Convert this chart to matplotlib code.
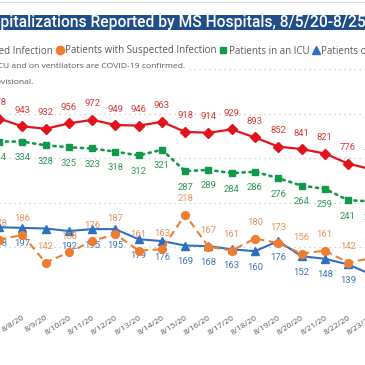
import matplotlib
matplotlib.use('Agg')
import matplotlib.pyplot as plt
from matplotlib.lines import Line2D
from matplotlib.patches import Rectangle

# ---------------- data ----------------
dates = ['8/7/20', '8/8/20', '8/9/20', '8/10/20', '8/11/20', '8/12/20', '8/13/20',
         '8/14/20', '8/15/20', '8/16/20', '8/17/20', '8/18/20', '8/19/20', '8/20/20',
         '8/21/20', '8/22/20', '8/23/20']
confirmed = [978, 943, 932, 956, 972, 949, 946, 963, 918, 914, 929, 893, 852, 841, 821, 776, 750]
suspected = [178, 186, 142, 158, 176, 187, 161, 163, 218, 167, 161, 180, 173, 156, 161, 142, 149]
icu = [334, 334, 328, 325, 323, 318, 312, 321, 287, 289, 284, 286, 276, 264, 259, 241, 239]
vent = [198, 197, 196, 192, 195, 195, 179, 176, 169, 168, 163, 160, 176, 152, 148, 139, 123]
vent_hidden_labels = [2]   # label covered in the original

series_names = ['Patients with Confirmed Infection', 'Patients with Suspected Infection',
                'Patients in an ICU', 'Patients on Ventilators']
title_full = 'COVID-19 Hospitalizations Reported by MS Hospitals, 8/5/20-8/25/20'
title_hidden_prefix = 'COVID-19 Hos'
title_visible = 'pitalizations Reported by MS Hospitals, 8/5/20-8/25'
note1 = '*All patients in an ICU and on ventilators are COVID-19 confirmed.'
note2 = '*Data is provisional.'

# ---------------- style ----------------
RED = '#e3131b'
RED_T = '#d8393d'
ORANGE = '#ed7d31'
ORANGE_T = '#e8915a'
GREEN = '#11994a'
GREEN_T = '#2f9a5c'
BLUE = '#2f6fbf'
BLUE_T = '#3f78b8'
GRAY = '#595959'

W = 365.0
def fx(px):
    return px / W
def fy(py):
    return 1 - py / W

fig = plt.figure(figsize=(3.65, 3.65), dpi=100)
fig.patch.set_facecolor('white')

step = 23.27          # px per day
first_px = -1.0       # px position of first date
y_top, y_bot = 69.0, 292.0
L_px, R_px = -40.0, 405.0   # axes extends past the visible crop
ax = fig.add_axes([fx(L_px), fy(y_bot), (R_px - L_px) / W, (y_bot - y_top) / W])
ax2 = ax.twinx()

for a in (ax, ax2):
    for s in a.spines.values():
        s.set_visible(False)
    a.patch.set_visible(False)

xs = list(range(len(dates)))
ax.set_xticks(xs)
ax.set_xticklabels(dates, rotation=33, ha='right', rotation_mode='anchor',
                   fontsize=6, color=GRAY, family='Open Sans')
ax.tick_params(axis='x', length=0, pad=16)

ax.set_yticks(range(200, 1201, 200))
ax.yaxis.grid(True, linestyle=(0, (1, 3)), color='#c8c8c8', linewidth=0.9)
ax.tick_params(axis='y', length=0, labelleft=False)
ax2.set_yticks([])
ax.set_axisbelow(True)

lab_font = dict(family=['Liberation Sans Narrow', 'Roboto'], fontsize=6.8)

ax.plot(xs, confirmed, color=RED, lw=1.6, marker='D', markersize=5.5, zorder=3)
ax2.plot(xs, icu, color=GREEN, lw=1.9, linestyle=(0, (0.8, 1.8)),
         dash_capstyle='round', marker='s', markersize=4.6, zorder=3)
ax2.plot(xs, vent, color=BLUE, lw=1.5, marker='^', markersize=5.3, zorder=3)
ax2.plot(xs, suspected, color=ORANGE, lw=1.5, linestyle=(0, (3.5, 2.2)),
         marker='o', markersize=5.6, zorder=4)

off = 11.5
for i, v in enumerate(confirmed):
    ax.annotate(str(v), (i, v), xytext=(0, off), textcoords='offset points',
                ha='center', va='center', color=RED_T, annotation_clip=False, **lab_font)
for i, v in enumerate(icu):
    ax2.annotate(str(v), (i, v), xytext=(0, -off), textcoords='offset points',
                 ha='center', va='center', color=GREEN_T, annotation_clip=False, **lab_font)
for i, v in enumerate(vent):
    if i in vent_hidden_labels:
        continue
    ax2.annotate(str(v), (i, v), xytext=(0, -off), textcoords='offset points',
                 ha='center', va='center', color=BLUE_T, annotation_clip=False, **lab_font)
for i, v in enumerate(suspected):
    ax2.annotate(str(v), (i, v), xytext=(0, off), textcoords='offset points',
                 ha='center', va='center', color=ORANGE_T, annotation_clip=False, **lab_font)

# limits last (set_xticks may widen them)
ax.set_xlim((L_px - first_px) / step, (R_px - first_px) / step)
ax.set_ylim(200, 1200)
ax2.set_ylim(95.2, 449.2)

# ---------------- title band ----------------
fig.add_artist(Line2D([0, 1], [fy(1.5), fy(1.5)], transform=fig.transFigure,
                      color='#dedede', lw=0.8))
fig.add_artist(Rectangle((0, fy(29.5)), 1, 14.5 / W, transform=fig.transFigure,
                         facecolor='#1f4e8a', edgecolor='none'))
renderer = fig.canvas.get_renderer()
tfont = dict(family='Roboto', weight='medium')
tmp = fig.text(0, 0, title_visible, fontsize=10, **tfont)
wv = tmp.get_window_extent(renderer).width
tmp.remove()
tsize = 10 * W / wv
tmp = fig.text(0, 0, title_hidden_prefix, fontsize=tsize, **tfont)
wp = tmp.get_window_extent(renderer).width
tmp.remove()
fig.text(-wp / W, fy(22.5), title_full, fontsize=tsize, color='white',
         ha='left', va='center', **tfont)

# ---------------- legend ----------------
handles = [Line2D([], [], color=RED, marker='D', linestyle='None', markersize=5.5),
           Line2D([], [], color=ORANGE, marker='o', linestyle='None', markersize=6),
           Line2D([], [], color=GREEN, marker='s', linestyle='None', markersize=5),
           Line2D([], [], color=BLUE, marker='^', linestyle='None', markersize=6)]
leg = fig.legend(handles, series_names, ncol=4, loc='center left',
                 bbox_to_anchor=(0, fy(51)), frameon=False,
                 prop=dict(family='Open Sans', size=7.0), labelcolor=GRAY,
                 handletextpad=0.05, columnspacing=0.2, handlelength=1.0,
                 borderaxespad=0, borderpad=0)
fig.canvas.draw()
bb = leg.get_texts()[1].get_window_extent(renderer)
dx = 65.0 - bb.x0
leg.set_bbox_to_anchor((dx / W, fy(51)), transform=fig.transFigure)

# ---------------- notes ----------------
fig.text(fx(185), fy(67), note1, ha='right', va='center', fontsize=6.1,
         family='Open Sans', color=GRAY,
         bbox=dict(facecolor='white', edgecolor='none', pad=1.2))
fig.text(fx(33), fy(83), note2, ha='right', va='center', fontsize=6.1,
         family='Open Sans', color=GRAY)

fig.savefig('out.png', dpi=100, facecolor='white')
